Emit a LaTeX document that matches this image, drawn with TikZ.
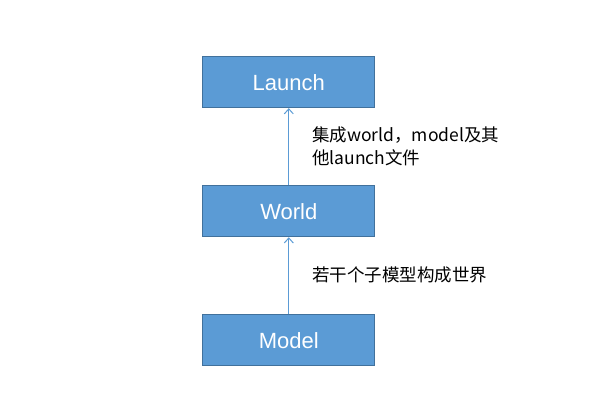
\documentclass[tikz,border=0pt]{standalone}
\usepackage{fontspec}
\setmainfont{Liberation Sans}
\newfontfamily\cjk{Noto Sans CJK SC}
\usetikzlibrary{arrows.meta}
\definecolor{boxfill}{HTML}{5B9BD5}
\definecolor{boxdraw}{HTML}{41719C}
\definecolor{arrowcol}{HTML}{5B9BD5}
\tikzset{
  stagebox/.style={draw=boxdraw, fill=boxfill, line width=0.9pt, minimum width=172pt, minimum height=51pt, inner sep=0pt, text=white, font=\fontsize{22pt}{26pt}\selectfont},
  link/.style={draw=arrowcol, line width=1pt, -{Straight Barb[length=5pt,width=9pt]}},
  note/.style={inner sep=0pt, align=left, font=\cjk\fontsize{17.5pt}{23pt}\selectfont}
}
\begin{document}
\begin{tikzpicture}[x=1pt,y=-1pt]
\useasboundingbox (0,0) rectangle (606,411);
\node[stagebox] (launch) at (288.8,82.2) {Launch};
\node[stagebox] (world) at (288.8,211.3) {World};
\node[stagebox] (model) at (288.8,340.3) {Model};
\draw[link] (world.north) -- (launch.south);
\draw[link] (model.north) -- (world.south);
\node[note, anchor=west] (n1) at (312,146.5) {集成world，model及其\\他launch文件};
\node[note, anchor=west] (n2) at (312,275) {若干个子模型构成世界};
\end{tikzpicture}
\end{document}
